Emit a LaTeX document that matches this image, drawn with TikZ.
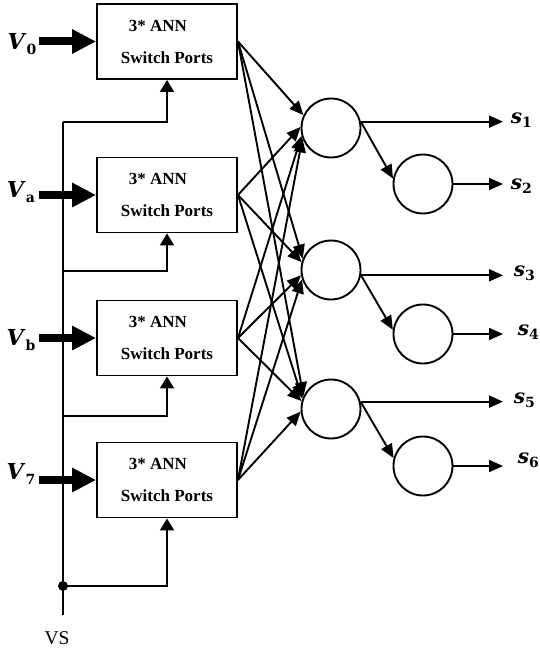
\documentclass[tikz,border=0pt]{standalone}
\usepackage{fontspec}
\setmainfont{Liberation Serif}
\newfontfamily\symfont{DejaVu Serif}
\usetikzlibrary{arrows.meta}
% bold italic symbol with a bold upright subscript
\newcommand\symsub[3]{\textit{#1}\raisebox{-#3}{\fontsize{14bp}{15bp}\selectfont #2}}
\begin{document}
\begin{tikzpicture}[x=1bp,y=-1bp,
  line width=1.9bp,
  port/.style={draw, minimum width=140bp, minimum height=75bp, align=center,
    inner sep=0pt, font=\fontsize{17bp}{32bp}\selectfont\bfseries},
  unit/.style={draw, circle, minimum size=59bp, inner sep=0pt},
  wire/.style={-{Triangle[length=14bp,width=12bp]}},
  feed/.style={-{Triangle[length=12bp,width=14bp]}},
  bigarrow/.style={line width=8bp, -{Triangle[length=24bp,width=23bp]}},
  vlabel/.style={font=\fontsize{22bp}{26bp}\selectfont\symfont\bfseries, inner sep=0pt},
  slabel/.style={font=\fontsize{20bp}{24bp}\selectfont\symfont\bfseries, anchor=west,
    inner ysep=0pt, inner xsep=#1},
]
\useasboundingbox (0,0) rectangle (540,648);

% switch-port blocks
\foreach \n/\y in {b1/41.5, b2/195, b3/338, b4/480}
  \node[port] (\n) at (167,\y) {3* ANN\hspace*{18bp}\\Switch Ports};

% input labels and thick input arrows
\node[vlabel] (v0) at (22,44)  {\symsub{V}{0}{5bp}};
\node[vlabel] (va) at (21,192) {\symsub{V}{a}{5bp}};
\node[vlabel] (vb) at (21,340) {\symsub{V}{b}{5bp}};
\node[vlabel] (v7) at (21,474) {\symsub{V}{7}{5bp}};
\foreach \v/\b in {v0/b1, va/b2, vb/b3, v7/b4}
  \draw[bigarrow] (39,0 |- \b.west) -- (\b.west);

% supply rail
\coordinate (j1) at (63,122);
\coordinate (j2) at (63,271);
\coordinate (j3) at (63,416);
\coordinate (j4) at (63,586);
\coordinate (railend) at (63,615);
\draw (j1) -- (railend);
\foreach \j/\b in {j1/b1, j2/b2, j3/b3, j4/b4}
  \draw[feed] (\j) -| (\b.south);
\fill (j4) circle (5bp);
\node[font=\fontsize{19.5bp}{22bp}\selectfont, inner sep=0pt] (vs) at (57,638) {VS};

% neurons
\node[unit] (c1) at (331,128) {};
\node[unit] (c2) at (331,270) {};
\node[unit] (c3) at (331,409) {};
\node[unit] (d1) at (423,184) {};
\node[unit] (d2) at (423,334) {};
\node[unit] (d3) at (423,466) {};

% full connections from blocks to first layer
\foreach \b/\c/\a in {b1/c1/155, b2/c1/178, b3/c1/195, b4/c1/200,
                      b1/c2/158, b2/c2/165, b3/c2/190, b4/c2/198,
                      b1/c3/155, b2/c3/160, b3/c3/165, b4/c3/185}
  \draw[wire] (\b.east) -- (\c.\a);

% outputs
\node[slabel=7bp]  (s1) at (503,120) {\symsub{s}{1}{4bp}};
\node[slabel=7bp]  (s2) at (503,186) {\symsub{s}{2}{4bp}};
\node[slabel=10bp] (s3) at (503,273) {\symsub{s}{3}{4bp}};
\node[slabel=14bp] (s4) at (503,332) {\symsub{s}{4}{4bp}};
\node[slabel=10bp] (s5) at (503,400) {\symsub{s}{5}{4bp}};
\node[slabel=14bp] (s6) at (503,460) {\symsub{s}{6}{4bp}};

\draw[wire] (c1.12)  -- (c1.12 -| s1.west);
\draw[wire] (c2.-10) -- (c2.-10 -| s3.west);
\draw[wire] (c3.14)  -- (c3.14 -| s5.west);
\draw[wire] (c1.12)  -- (d1.170);
\draw[wire] (c2.-10) -- (d2.172);
\draw[wire] (c3.14)  -- (d3.165);
\draw[wire] (d1.east) -- (d1.east -| s2.west);
\draw[wire] (d2.east) -- (d2.east -| s4.west);
\draw[wire] (d3.east) -- (d3.east -| s6.west);
\end{tikzpicture}
\end{document}
